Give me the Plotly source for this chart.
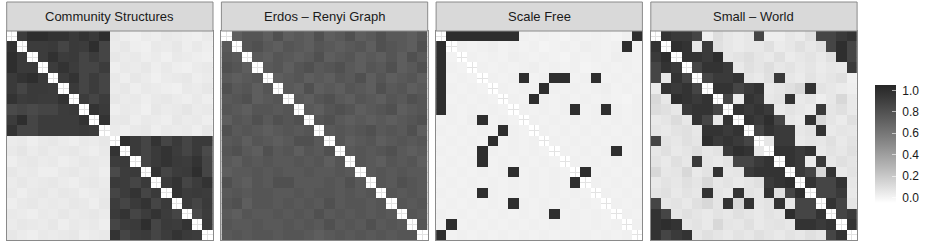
import plotly.graph_objects as go

# ---------------- data ----------------
panel_titles = ["Community Structures", "Erdos \u2013 Renyi Graph", "Scale Free", "Small \u2013 World"]
node_ids = list(range(1, 21))
legend_ticks = [0.0, 0.2, 0.4, 0.6, 0.8, 1.0]
legend_labels = ["0.0", "0.2", "0.4", "0.6", "0.8", "1.0"]
N = None

community = [
    [N, .92, 1.0, 1.0, .97, .97, .93, .97, .93, 1.0, .05, .03, .02, .04, .03, .05, .04, .03, .02, .04],
    [.97, N, .92, .92, .93, .87, .93, .92, 1.0, .87, .04, .06, .03, .02, .05, .04, .06, .03, .05, .03],
    [1.0, .93, N, .92, .98, .92, .93, .87, .92, .87, .06, .04, .05, .03, .04, .02, .05, .04, .03, .02],
    [1.0, .93, .93, N, .92, .97, .92, .87, .87, .92, .03, .05, .04, .06, .03, .05, .03, .02, .04, .05],
    [.93, .97, 1.0, .93, N, .92, .97, .87, .92, .87, .05, .03, .06, .04, .02, .04, .05, .06, .03, .04],
    [.93, .87, .93, .93, .92, N, .93, .87, .92, .87, .04, .06, .03, .05, .04, .03, .02, .05, .04, .06],
    [.97, .92, .93, .92, .92, .97, N, .92, .87, .92, .06, .04, .05, .03, .05, .06, .04, .03, .05, .03],
    [.84, .87, .84, .87, .87, .92, .93, N, .97, .93, .03, .05, .04, .02, .06, .04, .05, .07, .04, .05],
    [.92, 1.0, .87, .92, .92, .92, .92, .97, N, .97, .05, .06, .03, .05, .04, .03, .06, .04, .05, .03],
    [.97, .87, .87, .92, .92, .92, .92, .93, .92, N, .04, .03, .05, .06, .03, .05, .04, .05, .03, .06],
    [.04, .05, .03, .05, .06, .04, .03, .05, .04, .06, N, 1.0, .93, .87, .97, .87, .93, .87, .93, .93],
    [.05, .07, .04, .06, .04, .05, .06, .04, .03, .05, .97, N, .93, .87, .93, .97, .92, .87, .93, .84],
    [.03, .05, .06, .04, .05, .03, .04, .06, .05, .04, .92, .93, N, .87, .93, .97, .93, .92, .97, .87],
    [.06, .04, .05, .03, .03, .05, .06, .04, .05, .03, .84, .92, .93, N, .97, .87, .92, .93, 1.0, .87],
    [.04, .06, .04, .05, .06, .04, .03, .05, .06, .04, .93, .92, .87, .93, N, .92, .97, .87, .92, .97],
    [.05, .03, .05, .06, .04, .06, .05, .03, .04, .05, .87, .92, .97, .87, .93, N, .97, .92, .93, .92],
    [.03, .05, .06, .04, .05, .04, .06, .05, .03, .06, .92, .87, .93, .97, .87, .93, N, .92, .87, .93],
    [.05, .04, .03, .05, .04, .06, .04, .05, .06, .04, .93, .97, .87, .92, .97, .92, .87, N, .84, .92],
    [.04, .06, .05, .04, .06, .03, .05, .04, .05, .03, .87, .92, .93, 1.0, .87, .93, .92, .97, N, .93],
    [.06, .04, .03, .05, .04, .05, .06, .03, .04, .05, .97, .87, .92, .93, .87, .92, .97, .93, .92, N],
]

erdos_renyi = [
    [N, .73, .78, .78, .73, .81, .73, .76, .73, .81, .73, .76, .81, .73, .76, .81, .76, .76, .73, .78],
    [.76, N, .78, .81, .76, .73, .78, .76, .73, .78, .76, .73, .76, .78, .73, .81, .78, .76, .73, .81],
    [.78, .76, N, .76, .73, .78, .76, .73, .76, .81, .73, .76, .78, .73, .76, .73, .78, .73, .81, .76],
    [.81, .78, .73, N, .76, .78, .73, .78, .81, .76, .78, .81, .76, .73, .78, .76, .81, .73, .76, .81],
    [.76, .73, .76, .78, N, .73, .76, .78, .73, .76, .73, .78, .76, .81, .73, .78, .73, .76, .78, .73],
    [.81, .76, .78, .73, .78, N, .76, .73, .81, .73, .76, .73, .78, .76, .73, .81, .76, .78, .73, .76],
    [.76, .78, .81, .73, .76, .78, N, .76, .73, .78, .81, .76, .73, .78, .76, .73, .78, .76, .81, .78],
    [.78, .76, .73, .78, .78, .76, .78, N, .76, .73, .78, .81, .78, .73, .76, .78, .81, .73, .76, .78],
    [.73, .78, .76, .81, .76, .81, .78, .81, N, .78, .81, .76, .73, .76, .73, .76, .73, .76, .78, .81],
    [.81, .76, .78, .76, .73, .76, .78, .76, .78, N, .76, .78, .76, .78, .81, .76, .78, .76, .81, .73],
    [.76, .78, .73, .78, .76, .73, .76, .81, .81, .76, N, .78, .73, .76, .78, .73, .76, .78, .76, .78],
    [.78, .81, .76, .73, .81, .76, .78, .73, .78, .76, .81, N, .76, .78, .76, .78, .81, .76, .73, .76],
    [.76, .73, .78, .76, .78, .76, .76, .78, .76, .78, .73, .78, N, .78, .76, .73, .78, .76, .78, .73],
    [.73, .76, .76, .78, .76, .78, .76, .76, .78, .76, .76, .78, .76, N, .76, .78, .76, .78, .76, .76],
    [.81, .76, .73, .78, .76, .81, .81, .76, .76, .76, .78, .76, .81, .76, N, .78, .76, .81, .78, .76],
    [.76, .78, .76, .78, .78, .76, .76, .78, .76, .78, .78, .76, .78, .76, .78, N, .78, .76, .78, .76],
    [.78, .81, .73, .78, .78, .76, .78, .76, .78, .76, .81, .76, .78, .78, .76, .78, N, .78, .76, .78],
    [.76, .73, .78, .76, .76, .78, .76, .78, .76, .81, .76, .78, .76, .78, .76, .78, .76, N, .78, .76],
    [.78, .76, .76, .78, .76, .76, .78, .76, .78, .76, .81, .76, .78, .76, .81, .76, .78, .76, N, .78],
    [.76, .78, .76, .78, .78, .76, .78, .78, .76, .73, .76, .78, .76, .78, .76, .78, .76, .78, .78, N],
]

scale_free = [
    [N, 1.0, 1.0, 1.0, 1.0, 1.0, 1.0, 1.0, .02, .01, .02, .01, .00, .02, .01, .02, .01, .00, .02, 1.0],
    [1.0, N, .02, .01, .02, .03, .01, .02, .01, .02, .00, .01, .02, .01, .03, .02, .01, .02, 1.0, .01],
    [1.0, .01, N, .02, .01, .02, .01, .03, .02, .01, .02, .01, .00, .02, .01, .02, .01, .03, .02, .01],
    [1.0, .02, .01, N, .02, .01, .02, .01, .02, .03, .01, .02, .01, .02, .00, .01, .02, .01, .02, .01],
    [1.0, .01, .02, .01, N, .02, .01, .02, 1.0, .01, .02, 1.0, 1.0, .01, .02, 1.0, .01, .02, .01, .02],
    [1.0, .02, .01, .02, .01, N, .02, .01, .02, .01, 1.0, .02, .01, .02, .01, .02, .03, .01, .02, .01],
    [1.0, .01, .02, .01, .02, .01, N, .02, .01, 1.0, .02, .01, .02, .01, .02, .01, .02, .01, .00, .02],
    [1.0, .02, .01, .02, .01, .02, .01, N, .02, .01, .02, .01, .02, 1.0, .01, .02, 1.0, .02, .01, .02],
    [.01, .02, .01, .03, 1.0, .01, .02, .01, N, .02, .01, .02, .01, .02, .01, .02, .01, .02, .01, .02],
    [.02, .01, .02, .01, .02, .01, 1.0, .02, .01, N, .02, .01, .02, .01, .02, .01, .02, .01, .02, .01],
    [.01, .02, .01, .02, .01, 1.0, .01, .02, .01, .02, N, .02, .01, .02, .01, .02, .01, .02, .01, .02],
    [.02, .01, .02, .01, 1.0, .02, .01, .02, .01, .02, .01, N, .02, .01, .02, .01, .02, 1.0, .01, .02],
    [.01, .02, .01, .02, 1.0, .01, .02, .01, .02, .01, .02, .01, N, .02, .01, .02, .01, .02, .01, .02],
    [.02, .01, .02, .01, .02, .01, .02, 1.0, .01, .02, .01, .02, .01, N, 1.0, .01, .02, .01, .02, .01],
    [.01, .02, .01, .02, .01, .02, .01, .02, .01, .02, .01, .02, .01, 1.0, N, .02, .01, .02, .01, .02],
    [.02, .01, .02, .01, 1.0, .02, .01, .02, .01, .02, .01, .02, .01, .02, .01, N, .02, .01, .02, .01],
    [.01, .02, .01, .02, .01, .02, .01, 1.0, .02, .01, .02, .01, .02, .01, .02, .01, N, .02, .01, .02],
    [.02, .01, .02, .01, .02, .01, .02, .01, .02, .01, .02, 1.0, .01, .02, .01, .02, .01, N, .02, .01],
    [.01, 1.0, .01, .02, .01, .02, .01, .02, .01, .02, .01, .02, .01, .02, .01, .02, .01, .02, N, .02],
    [1.0, .01, .02, .01, .02, .01, .02, .01, .02, .01, .02, .01, .02, .01, .02, .01, .02, .01, .02, N],
]

small_world = [
    [N, .97, .93, .93, .87, .02, .10, .06, .04, .06, .87, .03, .03, .06, .04, .09, .87, .87, .93, .97],
    [.97, N, 1.0, .97, .06, .93, .09, .06, .04, .06, .06, .09, .04, .06, .09, .06, .09, .87, 1.0, .87],
    [.93, 1.0, N, .97, .97, .93, 1.0, .06, .08, .10, .07, .05, .09, .04, .06, .08, .05, .09, 1.0, .87],
    [.87, .97, .93, N, .87, .97, .97, .93, .05, .09, .07, .10, .06, .08, .05, .07, .04, .06, .05, .93],
    [.87, .06, .97, .87, N, .87, .93, .93, .97, .07, .05, .09, .93, .06, .04, .08, .05, .07, .09, .02],
    [.04, .97, .93, .97, .87, N, .97, .97, .87, .93, .97, .05, .07, .09, .13, .97, .08, .06, .04, .03],
    [.13, .06, 1.0, .97, .93, .97, N, .87, .04, .97, .93, .06, .08, .97, .05, .07, .03, .06, .13, .05],
    [.11, .09, .06, .93, .97, .97, .87, N, .97, .93, .97, .93, .05, .08, .06, .04, .93, .07, .09, .05],
    [.05, .07, .11, .06, .97, .87, .06, .97, N, .97, .93, 1.0, .87, .06, .04, .97, .13, .07, .04, .09],
    [.07, .05, .08, .09, .06, .97, .97, .93, .97, N, .87, .97, .93, .93, .06, .08, .97, .05, .07, .06],
    [.87, .08, .06, .09, .07, 1.0, .93, .97, .93, .87, N, .06, .93, .93, .05, .07, .06, .09, .05, .08],
    [.06, .09, .05, .07, .10, .06, .08, .93, 1.0, .97, .06, N, .97, .97, .93, .97, .05, .08, .06, .09],
    [.08, .05, .09, .06, .93, .07, .05, .08, .87, .87, .93, .97, N, .97, .93, .04, .93, .06, .09, .07],
    [.13, .06, .07, .13, .05, .08, .97, .06, .07, .93, .97, .97, .97, N, .93, .87, .13, .97, .05, .08],
    [.05, .08, .06, .09, .07, .13, .06, .08, .05, .07, .09, .93, .97, 1.0, N, .97, .87, .87, .97, .06],
    [.07, .09, .05, .08, .06, .97, .07, .05, .97, .08, .06, .97, .09, .87, 1.0, N, .87, .87, .93, .05],
    [.87, .06, .08, .05, .09, .13, .07, .97, .13, .97, .06, .08, .97, .05, .87, .87, N, .97, .87, .07],
    [.97, .87, .06, .09, .07, .05, .08, .06, .09, .07, .05, .08, .06, 1.0, .87, .87, .97, N, .87, .93],
    [.97, 1.0, .97, .06, .08, .05, .13, .07, .06, .09, .05, .07, .08, .06, .97, .97, .93, .97, N, .97],
    [.97, .87, .93, .97, .06, .09, .07, .05, .08, .06, .09, .07, .05, .08, .06, .09, .07, .87, .97, N],
]

matrices = [community, erdos_renyi, scale_free, small_world]

# ---------------- style ----------------
W, H = 926, 245
Z_LO, Z_HI = -0.05, 1.05


def lab_gray(t, l_hi=15.2):
    L = 100 - t * (100 - l_hi)
    Y = ((L + 16) / 116) ** 3 if L > 8 else L / 903.3
    s = 1.055 * Y ** (1 / 2.4) - 0.055 if Y > 0.0031308 else 12.92 * Y
    g = max(0, min(255, round(255 * s)))
    return f"rgb({g},{g},{g})"


colorscale = [[i / 10, lab_gray(i / 10)] for i in range(11)]

px0, pitch, pw = 6.7, 214.7, 206.3
py_top, py_bot = 31.0, 240.0
strip_top = 2.0

fig = go.Figure()
layout = dict(
    width=W, height=H,
    margin=dict(l=0, r=0, t=0, b=0, pad=0, autoexpand=False),
    paper_bgcolor="white", plot_bgcolor="white",
    font=dict(family="Liberation Sans, Arial, sans-serif", color="#1a1a1a"),
    coloraxis=dict(
        colorscale=colorscale, cmin=Z_LO, cmax=Z_HI,
        colorbar=dict(
            thickness=21, len=118, lenmode="pixels",
            x=875 / W, xanchor="left", y=1 - 144 / H, yanchor="middle",
            xpad=0, ypad=0, outlinewidth=0,
            tickvals=legend_ticks,
            ticktext=["\u00a0" + s for s in legend_labels],
            ticks="inside", ticklen=4, tickcolor="rgba(255,255,255,0.6)", tickwidth=1,
            tickfont=dict(size=12, color="#1a1a1a"),
        ),
    ),
    showlegend=False,
)

shapes = []
annotations = []
for k, (title, mat) in enumerate(zip(panel_titles, matrices)):
    x0 = px0 + k * pitch
    x1 = x0 + pw
    sfx = "" if k == 0 else str(k + 1)
    fig.add_trace(go.Heatmap(
        z=mat, x=node_ids, y=node_ids, coloraxis="coloraxis",
        xaxis="x" + sfx, yaxis="y" + sfx, hoverinfo="skip",
    ))
    axcommon = dict(
        tickvals=node_ids, showticklabels=False, ticks="",
        showgrid=True, gridcolor="#e3e3e3", gridwidth=1, zeroline=False,
        showline=True, mirror=True, linecolor="#8a8a8a", linewidth=1,
        fixedrange=True, automargin=False,
    )
    layout["xaxis" + sfx] = dict(axcommon, domain=[x0 / W, x1 / W],
                                 range=[0.5, 20.5], anchor="y" + sfx)
    layout["yaxis" + sfx] = dict(axcommon, domain=[1 - py_bot / H, 1 - py_top / H],
                                 range=[20.5, 0.5], anchor="x" + sfx)
    shapes.append(dict(type="rect", xref="paper", yref="paper",
                       x0=x0 / W, x1=x1 / W, y0=1 - py_top / H, y1=1 - strip_top / H,
                       fillcolor="#d9d9d9", line=dict(color="#8a8a8a", width=1)))
    annotations.append(dict(text=title, xref="paper", yref="paper",
                            x=(x0 + x1) / 2 / W, y=1 - (strip_top + py_top) / 2 / H,
                            xanchor="center", yanchor="middle", showarrow=False,
                            font=dict(size=13, color="#1a1a1a")))

layout["shapes"] = shapes
layout["annotations"] = annotations
fig.update_layout(**layout)
fig.write_html(
    "out.html",
    config={"displayModeBar": False},
    post_script="document.body.style.margin='0';document.body.style.padding='0';",
)
